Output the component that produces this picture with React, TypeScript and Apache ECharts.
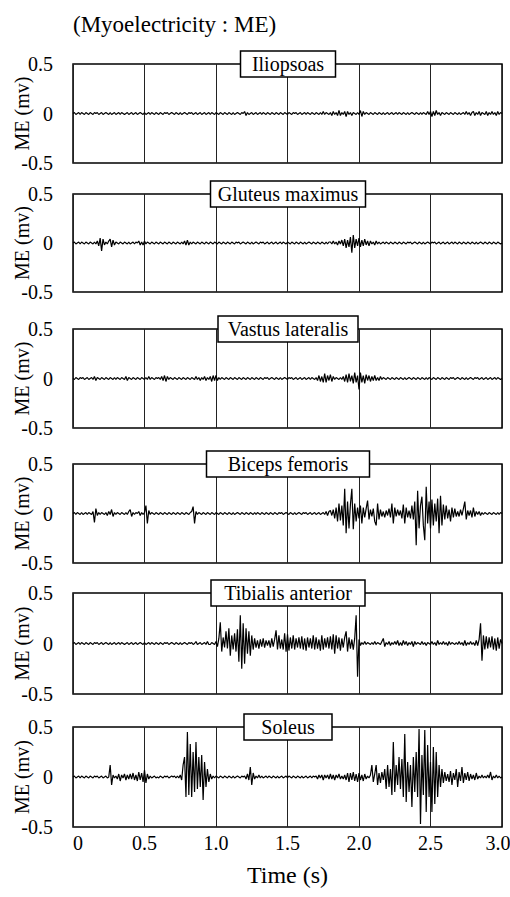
import React, { useEffect, useRef } from "react";
import * as echarts from "echarts";

// Sampling step of the recorded traces (seconds)
const TIME_STEP_S = 0.01;
// Tick labels of the time axis
const TIME_TICKS = ["0", "0.5", "1.0", "1.5", "2.0", "2.5", "3.0"];
// Panel titles (muscles)
const MUSCLES = [
  "Iliopsoas",
  "Gluteus maximus",
  "Vastus lateralis",
  "Biceps femoris",
  "Tibialis anterior",
  "Soleus",
];

// Myoelectric traces, in hundredths of a millivolt, one sample per 0.01 s (0 .. 3.0 s)
const iliopsoas = [
  0, 1, -1, 0, 1, -1, 1, 0, -1, 1,
  0, -1, 1, 0, -1, 1, 0, 1, -1, 0,
  1, -1, 0, 1, 0, -1, 1, -1, 0, 1,
  -1, 0, 1, -1, 1, 0, -1, 0, 1, -1,
  0, 1, -1, 0, 1, -1, 0, 1, 0, -1,
  1, -1, 0, 1, -1, 1, 0, -1, 1, 0,
  -1, 1, 0, -1, 1, 0, 1, -1, 0, 1,
  0, -1, 1, 0, -1, 1, -1, 0, 1, 0,
  -1, 1, 0, 1, -1, 0, 1, -1, 0, 1,
  -1, 0, 1, -1, 0, 1, -1, 1, 0, -1,
  1, 0, -1, 1, 0, -1, 1, 0, -1, 1,
  0, -1, 1, -1, 0, 1, 0, -1, 1, 0,
  2, -2, 1, -1, 0, 1, -1, 0, 1, -1,
  0, 1, -1, 1, 0, -1, 1, 0, -1, 1,
  0, -1, 1, 0, -1, 1, 0, -1, 1, 0,
  -1, 1, 0, -1, 1, 0, 1, -1, 0, 1,
  -1, 0, 1, -1, 1, 0, -1, 1, 0, -1,
  1, 0, -1, 1, -1, 2, -1, 1, 0, -1,
  1, -2, 2, -1, 1, -2, 3, -2, 1, -1,
  2, -3, 2, -1, 1, -2, 1, 0, -1, 1,
  -1, 3, -3, 2, -1, 1, 0, -1, 1, 0,
  -1, 1, 0, -1, 1, 0, -1, 1, -1, 0,
  1, -1, 0, 1, -1, 0, 1, -1, 1, 0,
  -1, 1, 0, -1, 1, -1, 0, 1, 0, -1,
  1, 0, -1, 1, -1, 1, 0, -1, 2, -1,
  2, -3, 2, -2, 3, -1, 1, -2, 1, 0,
  -1, 1, 0, -1, 1, 0, -1, 1, 0, -1,
  1, -1, 0, 1, -1, 2, -1, 1, -2, 1,
  2, -2, 1, -1, 2, -2, 1, 0, -1, 2,
  -2, 1, -1, 2, -1, 1, -2, 2, -1, 1,
  0,
];

const gluteusMaximus = [
  0, 1, -1, 0, 1, -1, 1, 0, -1, 1,
  0, -1, 1, 0, -1, 1, -1, 2, -3, 5,
  -8, 4, -2, 1, -1, 2, 4, -4, 3, -2,
  1, 0, -1, 1, 0, -1, 1, 0, -1, 1,
  -1, 0, 1, -1, 1, 0, 2, -2, 1, -2,
  2, -1, 1, 0, -1, 1, 0, -1, 1, 0,
  -1, 1, 0, -1, 1, 0, -1, 1, 0, -1,
  1, 0, -1, 1, 0, -1, 1, -1, 2, -2,
  3, -2, 1, -1, 1, 0, -1, 1, 0, -1,
  1, 0, -1, 1, 0, -1, 1, 0, -1, 1,
  0, -1, 1, 0, -1, 1, 0, -1, 1, 0,
  -1, 1, 0, -1, 1, 0, 1, -1, 0, 1,
  0, -1, 1, 0, -1, 1, -1, 0, 1, 0,
  -1, 1, 0, 1, -1, 0, 1, -1, 0, 1,
  -1, 0, 1, -1, 0, 1, -1, 1, 0, -1,
  1, 0, -1, 1, 0, -1, 1, 0, -1, 1,
  0, -1, 1, -1, 0, 1, 0, -1, 1, 0,
  -1, 1, 0, -1, 1, 0, -1, 1, -1, 1,
  1, -1, 2, -1, 1, -2, 2, -1, 3, -3,
  4, -5, 3, -4, 6, -10, 8, -5, 4, -3,
  5, -4, 3, -3, 4, -2, 2, -3, 2, -1,
  1, -2, 2, -1, 1, -1, 0, 1, -1, 1,
  0, -1, 1, 0, -1, 1, 0, -1, 1, 0,
  -1, 1, 0, -1, 1, 0, 1, -1, 0, 1,
  0, -1, 1, 0, -1, 1, -1, 0, 1, 0,
  -1, 1, 0, 1, -1, 0, 1, -1, 0, 1,
  -1, 0, 1, -1, 0, 1, -1, 1, 0, -1,
  1, 0, -1, 1, 0, -1, 1, 0, -1, 1,
  0, -1, 1, -1, 0, 1, 0, -1, 1, 0,
  -1, 1, 0, -1, 1, 0, -1, 1, 0, -1,
  0,
];

const vastusLateralis = [
  0, -1, 1, 0, -1, 1, 0, 1, -1, 0,
  1, -1, 0, 1, -1, 2, -2, 1, 0, -1,
  1, 0, -1, 1, 0, -1, 1, 0, -1, 1,
  -1, 1, 0, -1, 1, 0, -1, 2, -2, 1,
  0, -1, 1, 0, -1, 1, 0, -1, 1, 0,
  -1, 1, -1, 2, -1, 1, 0, -1, 1, 0,
  1, -1, 2, -2, 3, -3, 2, -1, 1, 0,
  -1, 1, 0, -1, 1, 0, -1, 1, 0, -1,
  1, 0, -1, 1, 0, -1, 2, -1, 1, -2,
  1, -1, 2, -2, 1, -1, 2, -3, 3, -2,
  3, -2, 1, -1, 1, 0, -1, 1, 0, -1,
  1, 0, -1, 1, 0, -1, 1, 0, -1, 1,
  0, -1, 1, 0, -1, 1, 0, -1, 1, 0,
  -1, 1, 0, -1, 1, 0, 1, -1, 0, 1,
  0, -1, 1, 0, -1, 1, -1, 0, 1, 0,
  -1, 1, 0, 1, -1, 0, 1, -1, 0, 1,
  -1, 0, 1, -1, 0, 1, -1, 1, 0, -1,
  1, -2, 3, -3, 2, -4, 5, -4, 3, -2,
  4, -3, 2, -1, 1, 0, -1, 1, -1, 2,
  -3, 4, -4, 5, -3, 3, -5, 6, -4, 3,
  -11, 6, -4, 3, -5, 4, -2, 3, -3, 2,
  -2, 3, -2, 1, -2, 2, -1, 1, 0, -1,
  1, 0, -1, 1, 0, -1, 1, 0, -1, 1,
  0, -1, 1, -1, 0, 1, 0, -1, 1, 0,
  -1, 1, 0, -1, 1, 0, -1, 1, -1, 1,
  0, -1, 1, 0, -1, 1, 0, -1, 1, 0,
  -1, 1, 0, -1, 1, 0, 1, -1, 0, 1,
  0, -1, 1, 0, -1, 1, -1, 0, 1, 0,
  -1, 1, 0, 1, -1, 0, 1, -1, 0, 1,
  -1, 0, 1, -1, 0, 1, -1, 1, 0, -1,
  0,
];

const bicepsFemoris = [
  0, 1, -1, 1, 0, -1, 1, -1, 0, 1,
  -1, 1, 0, -1, 2, -9, 5, -2, 1, -1,
  1, 0, -1, 1, -2, 2, -1, 4, -3, 1,
  -1, 1, 0, -1, 1, 0, -1, 1, -1, 2,
  4, -3, 1, -1, 1, 0, 2, -2, 1, -1,
  1, 8, -10, 3, -1, 1, 0, -1, 1, 0,
  -1, 1, 0, -1, 1, 0, -1, 1, 0, -1,
  1, 0, -1, 1, 0, -1, 1, 0, -1, 1,
  0, -1, 1, 2, 7, -10, 2, -1, 1, 0,
  -1, 1, 0, -1, 1, 0, -1, 1, 0, -1,
  1, 0, -1, 1, 0, -1, 1, 0, -1, 1,
  0, -1, 1, -1, 0, 1, 0, -1, 1, 0,
  -1, 1, 0, -1, 1, 0, -1, 1, -1, 1,
  0, -1, 1, 0, -1, 1, 0, -1, 1, 0,
  -1, 1, 0, -1, 1, 0, 1, -1, 0, 1,
  0, -1, 1, 0, -1, 1, -1, 0, 1, 0,
  -1, 1, 0, 1, -1, 0, 1, -1, 0, 1,
  -1, 0, 1, -1, 0, 1, -1, 2, -2, 2,
  3, -2, 4, -5, 6, -8, 10, -7, 8, -12,
  25, -20, 12, -15, 9, 25, -16, 10, -8, 6,
  -5, 8, -10, 6, -4, 5, 13, -6, 4, -3,
  5, -8, -12, 10, -6, 4, -3, 2, -4, 3,
  -2, 5, -4, 10, -10, 6, -3, 4, -2, 3,
  -5, 9, -10, 6, -4, 3, -5, 8, -6, 12,
  -32, 23, -15, 8, 17, -12, -27, 27, -10, 12,
  -15, 14, -12, 10, -8, 15, -20, 18, -12, 9,
  -6, 8, -5, 4, -8, 6, -4, 5, -3, 2,
  -3, 4, -2, 5, 12, -6, 3, -2, 3, -4,
  6, -3, 2, -1, 2, -2, 1, -1, 1, 0,
  -1, 1, 0, -1, 1, 0, -1, 1, -1, 1,
  0,
];

const tibialisAnterior = [
  0, 1, -1, 0, 1, -1, 1, 0, -1, 1,
  0, -1, 1, 0, -1, 1, 0, 1, -1, 0,
  1, -1, 0, 1, 0, -1, 1, -1, 0, 1,
  -1, 0, 1, -1, 1, 0, -1, 0, 1, -1,
  0, 1, -1, 0, 1, -1, 0, 1, 0, -1,
  1, -1, 0, 1, -1, 1, 0, -1, 1, 0,
  -1, 1, 0, -1, 1, 0, 1, -1, 0, 1,
  0, -1, 1, 0, -1, 1, -1, 0, 1, 0,
  -1, 1, 0, 1, -1, 0, 2, -1, 0, 1,
  -1, 0, 1, -1, 2, -1, -1, 1, 0, -1,
  2, -3, 5, 21, -8, 6, -4, 12, -5, 15,
  -12, 8, -6, 10, -8, 14, -18, 28, -25, 20,
  -20, 15, -10, 12, -12, 8, -6, 5, -4, 3,
  -5, 4, -3, 5, -4, 3, -2, 3, -4, 5,
  -3, 4, 13, -6, 8, -5, 4, -6, 10, -8,
  9, -7, 6, -5, 8, -6, 5, -4, 6, -5,
  7, -6, 5, -7, 6, -4, 5, -5, 8, -6,
  6, -5, 4, -7, 8, -6, 5, -4, 6, -5,
  7, -6, 9, -10, 8, -5, 6, -7, 5, -4,
  6, 12, -8, 6, -5, 4, -6, 5, 28, -33,
  4, -2, 1, -1, 2, -1, 1, 0, -1, 1,
  -1, 2, -1, 1, 0, -1, 2, 5, -3, 1,
  -1, 2, -2, 1, -1, 2, -1, 3, -2, 1,
  -2, 3, -1, 2, -2, 1, -1, 2, -3, 2,
  -1, 1, 0, -1, 2, -1, 1, -2, 1, 0,
  -1, 2, -1, 1, -2, 3, -1, 1, -1, 2,
  -1, 1, -2, 2, -1, 1, 0, -1, 1, -1,
  2, -1, 1, -2, 3, -2, 1, -1, 2, -1,
  1, -2, 3, -2, 4, 20, -17, 8, -6, 7,
  -5, 6, -4, 7, -6, 5, -7, 6, -5, 4,
  0,
];

const soleus = [
  0, 1, -1, 0, 1, -1, 1, 0, -1, 1,
  0, -1, 1, 0, -1, 1, 0, 1, -1, 0,
  1, -1, 0, 1, -1, 0, 12, -8, 2, -1,
  1, -2, 3, -4, 2, -1, 3, -3, 2, -2,
  3, -2, 4, -3, 2, -4, 5, -3, 4, -5,
  7, -6, 3, -2, 1, -1, 0, 1, -1, 0,
  -1, 1, 0, -1, 1, 0, 1, -1, 0, 1,
  0, 1, -1, 1, -1, 2, -3, 12, 20, -20,
  45, -18, 33, -20, 25, -15, 35, -12, 20, -10,
  22, -23, 15, -10, 8, -5, 3, -2, 1, -1,
  1, 0, -1, 1, 0, -1, 1, 0, -1, 1,
  0, -1, 1, -1, 0, 1, 0, -1, 1, 0,
  1, -2, 3, -3, 10, -8, 4, -2, 1, -1,
  2, -1, 1, -1, 0, 1, -1, 1, 0, -1,
  1, 0, -1, 1, -1, 0, 1, -1, 0, 1,
  -1, 1, 0, -1, 1, 0, -1, 1, 0, -1,
  1, -1, 0, 1, -1, 0, 1, -1, 1, 0,
  1, -2, 2, -1, 2, -3, 2, -1, 2, -2,
  3, -2, 2, -3, 2, -1, 3, -2, 1, -2,
  2, -3, 4, -5, 4, -3, 5, -4, 3, -5,
  4, -3, 2, -4, 3, -2, 1, -1, 2, 12,
  -5, 3, 12, -8, 4, -6, 5, -3, 8, -12,
  12, -10, 8, -18, 35, -15, 12, -8, 20, -12,
  18, -20, 43, -25, 15, -15, 12, -30, 20, -15,
  25, -20, 48, -47, 22, -18, 47, -35, 32, -20,
  15, -35, 30, -27, 25, -20, 12, -10, 8, -6,
  5, -4, 3, -5, 6, -8, 4, -3, 8, -10,
  5, -4, 10, -6, 4, -3, 5, -4, 3, -2,
  2, -3, 4, -2, 1, -1, 2, -1, 1, -1,
  2, -1, 5, -3, 1, -1, 2, -1, 1, -1,
  0,
];

const TRACES = [iliopsoas, gluteusMaximus, vastusLateralis, bicepsFemoris, tibialisAnterior, soleus];

// Layout (pixels)
const PANEL_TOPS = [64, 194, 329, 464, 593, 727];
const PANEL_HEIGHTS = [99, 98, 99, 99, 101, 100];
const PANEL_LEFT = 73;
const PANEL_RIGHT = 8;
const TITLE_BOX_WIDTHS = [95, 155, 140, 163, 154, 88];
const TITLE_BOX_CENTER_X = 288;

const FONT = "Liberation Serif, Times New Roman, Times, serif";

export default function App() {
  const ref = useRef<HTMLDivElement>(null);

  useEffect(() => {
    if (!ref.current) return;
    const chart = echarts.init(ref.current, undefined, { renderer: "svg" });
    const last = MUSCLES.length - 1;

    const grids = MUSCLES.map((_, i) => ({
      left: PANEL_LEFT,
      right: PANEL_RIGHT,
      top: PANEL_TOPS[i],
      height: PANEL_HEIGHTS[i],
      containLabel: false,
      outerBoundsMode: "none",
      show: true,
      borderColor: "#000",
      borderWidth: 1.5,
      backgroundColor: "transparent",
    }));

    const xAxes = MUSCLES.map((_, i) => ({
      gridIndex: i,
      type: "value",
      min: 0,
      max: 3,
      interval: 0.5,
      axisLine: { show: false },
      axisTick: { show: false },
      splitLine: { show: true, lineStyle: { color: "#222", width: 1 } },
      axisLabel: {
        show: i === last,
        fontSize: 20,
        fontFamily: FONT,
        color: "#000",
        margin: 6,
        formatter: (v: number) => {
          const k = Math.round(v / 0.5);
          const t = TIME_TICKS[k] ?? String(v);
          if (k === 0) return "{first|" + t + "}";
          if (k === TIME_TICKS.length - 1) return "{last|" + t + "}";
          return t;
        },
        rich: {
          first: { fontSize: 20, fontFamily: FONT, color: "#000", padding: [0, 0, 0, 10] },
          last: { fontSize: 20, fontFamily: FONT, color: "#000", padding: [0, 8, 0, 0] },
        },
      },
      name: i === last ? "Time (s)" : "",
      nameLocation: "middle",
      nameGap: 36,
      nameTextStyle: { fontSize: 24, fontFamily: FONT, color: "#000" },
    }));

    const yAxes = MUSCLES.map((_, i) => ({
      gridIndex: i,
      type: "value",
      min: -0.5,
      max: 0.5,
      interval: 0.5,
      axisLine: { show: false },
      axisTick: { show: false },
      splitLine: { show: false },
      axisLabel: {
        fontSize: 20,
        fontFamily: FONT,
        color: "#000",
        margin: 20,
        padding: [0, 0, 8, 0],
      },
      name: "ME (mv)",
      nameLocation: "middle",
      nameGap: 41,
      nameMoveOverlap: false,
      nameTextStyle: { fontSize: 20, fontFamily: FONT, color: "#000" },
    }));

    const series = TRACES.map((trace, i) => ({
      type: "line",
      name: MUSCLES[i],
      xAxisIndex: i,
      yAxisIndex: i,
      data: trace.map((v, k) => [Number((k * TIME_STEP_S).toFixed(2)), v / 100]),
      showSymbol: false,
      symbol: "none",
      silent: true,
      lineStyle: { color: "#000", width: 1.2 },
      z: 3,
    }));

    const graphic: any[] = [];
    MUSCLES.forEach((name, i) => {
      const w = TITLE_BOX_WIDTHS[i];
      const top = PANEL_TOPS[i];
      graphic.push({
        type: "rect",
        shape: { x: TITLE_BOX_CENTER_X - w / 2, y: top - 13, width: w, height: 26 },
        style: { fill: "#fff", stroke: "#000", lineWidth: 1.5 },
        z: 100,
      });
      graphic.push({
        type: "text",
        x: TITLE_BOX_CENTER_X,
        y: top,
        style: {
          text: name,
          fontSize: 20,
          fontFamily: FONT,
          fill: "#000",
          align: "center",
          verticalAlign: "middle",
        },
        z: 101,
      });
    });

    chart.setOption({
      animation: false,
      backgroundColor: "#fff",
      title: {
        text: "(Myoelectricity : ME)",
        left: 68,
        top: 8,
        textStyle: { fontSize: 23, fontFamily: FONT, fontWeight: "normal", color: "#000" },
      },
      grid: grids,
      xAxis: xAxes,
      yAxis: yAxes,
      series,
      graphic,
    } as any);

    return () => chart.dispose();
  }, []);

  return (
    <div
      ref={ref}
      style={{ position: "fixed", left: 0, top: 0, width: 510, height: 897, background: "#fff" }}
    />
  );
}
